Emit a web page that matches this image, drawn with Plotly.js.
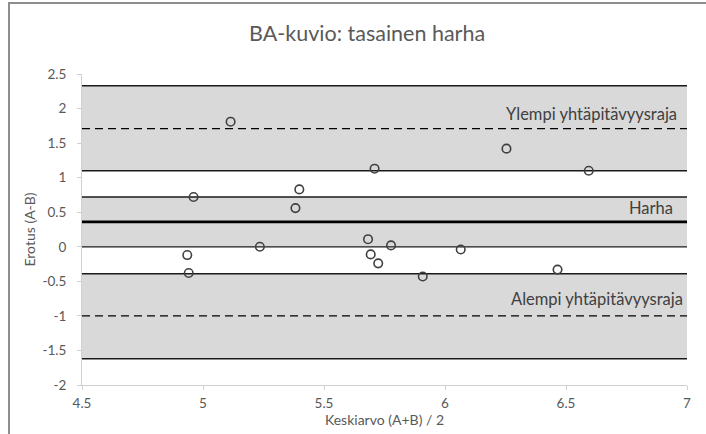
<!DOCTYPE html>
<html>
<head>
<meta charset="utf-8">
<script src="https://cdn.plot.ly/plotly-3.0.1.min.js"></script>
<style>
  html, body { margin: 0; padding: 0; background: #ffffff; }
  #frame {
    position: absolute; left: 8px; top: 2px; width: 720px; height: 450px;
    border-left: 2px solid #8e8e8e; border-top: 2px solid #8e8e8e;
    box-sizing: border-box; pointer-events: none; z-index: 5;
  }
  #chart { position: absolute; left: 0; top: 0; width: 706px; height: 434px; }
</style>
</head>
<body>
<div id="chart"></div>
<div id="frame"></div>
<script>
// Bland–Altman data: mean of the two measurements and their difference
const meanAB = [5.114, 4.961, 5.398, 5.382, 5.709, 6.254, 6.594, 4.935, 4.941,
                5.235, 5.682, 5.693, 5.724, 5.777, 5.908, 6.065, 6.465];
const diffAB = [1.81, 0.72, 0.83, 0.56, 1.13, 1.42, 1.10, -0.12, -0.38,
                0.00, 0.11, -0.11, -0.24, 0.02, -0.43, -0.04, -0.33];

// Bias and limits of agreement, each with its confidence interval
const lineNames = ["Ylempi yhtäpitävyysraja", "Harha", "Alempi yhtäpitävyysraja"];
const lineValues = [1.71, 0.36, -1.00];
const ciLow = [1.10, 0.00, -1.62];
const ciHigh = [2.33, 0.72, -0.39];

// Axis ticks
const xTicks = [4.5, 5, 5.5, 6, 6.5, 7];
const xTickText = ["4.5", "5", "5.5", "6", "6.5", "7"];
const yTicks = [-2, -1.5, -1, -0.5, 0, 0.5, 1, 1.5, 2, 2.5];
const yTickText = ["-2", "-1.5", "-1", "-0.5", "0", "0.5", "1", "1.5", "2", "2.5"];

const xRange = [4.5, 7];
const yRange = [-2, 2.5];

const FONT = "Lato, sans-serif";

const shapes = [];
// shaded confidence bands
ciLow.forEach((lo, i) => {
  shapes.push({type: "rect", layer: "below", xref: "x", yref: "y",
    x0: xRange[0], x1: xRange[1], y0: lo, y1: ciHigh[i],
    fillcolor: "#d9d9d9", line: {width: 0}});
});
// band edges
ciLow.concat(ciHigh).forEach(v => {
  shapes.push({type: "line", layer: "below", xref: "x", yref: "y",
    x0: xRange[0], x1: xRange[1], y0: v, y1: v,
    line: {color: "#1a1a1a", width: 1.3}});
});
// bias (thick) and limits of agreement (dashed)
lineValues.forEach((v, i) => {
  const isBias = i === 1;
  shapes.push({type: "line", layer: "below", xref: "x", yref: "y",
    x0: xRange[0], x1: xRange[1], y0: v, y1: v,
    line: {color: "#000000", width: isBias ? 2.8 : 1.3, dash: isBias ? "solid" : "8px,5px"}});
});

const labelShift = [-8, -12, -2];
const labelLift = [3, 2, 5];
const annotations = lineNames.map((name, i) => ({
  xref: "x", yref: "y", x: xRange[1], y: lineValues[i],
  xanchor: "right", yanchor: "bottom", xshift: labelShift[i], yshift: labelLift[i],
  text: name, showarrow: false,
  font: {family: FONT, size: 16.5, color: "#404040"}
}));

const trace = {
  x: meanAB, y: diffAB, type: "scatter", mode: "markers",
  marker: {symbol: "circle-open", size: 8.5, color: "#404040", line: {width: 1.6, color: "#404040"}},
  hoverinfo: "x+y"
};

const axisCommon = {
  showgrid: false, zeroline: false, showline: true, linecolor: "#d0d0d0", linewidth: 1,
  ticks: "outside", ticklen: 4, tickcolor: "#d0d0d0", tickwidth: 1,
  tickfont: {family: FONT, size: 13.5, color: "#595959"},
  tickmode: "array"
};

const layout = {
  width: 706, height: 434,
  margin: {l: 82, r: 19, t: 74, b: 49},
  paper_bgcolor: "#ffffff", plot_bgcolor: "#ffffff",
  showlegend: false,
  title: {text: "BA-kuvio: tasainen harha", xref: "container", yref: "container",
    x: 0.52, xanchor: "center", y: 0.924, yanchor: "middle",
    font: {family: FONT, size: 21.5, color: "#595959"}},
  xaxis: Object.assign({}, axisCommon, {range: xRange, tickvals: xTicks, ticktext: xTickText,
    ticklabelstandoff: 2,
    title: {text: "Keskiarvo (A+B) / 2", standoff: 2,
      font: {family: FONT, size: 14, color: "#595959"}}}),
  yaxis: Object.assign({}, axisCommon, {range: yRange, tickvals: yTicks, ticktext: yTickText,
    ticklabelstandoff: 8,
    title: {text: "Erotus (A-B)", standoff: 3,
      font: {family: FONT, size: 14, color: "#595959"}}}),
  shapes: shapes,
  annotations: annotations
};

Plotly.newPlot("chart", [trace], layout, {displayModeBar: false, staticPlot: true});
</script>
</body>
</html>
